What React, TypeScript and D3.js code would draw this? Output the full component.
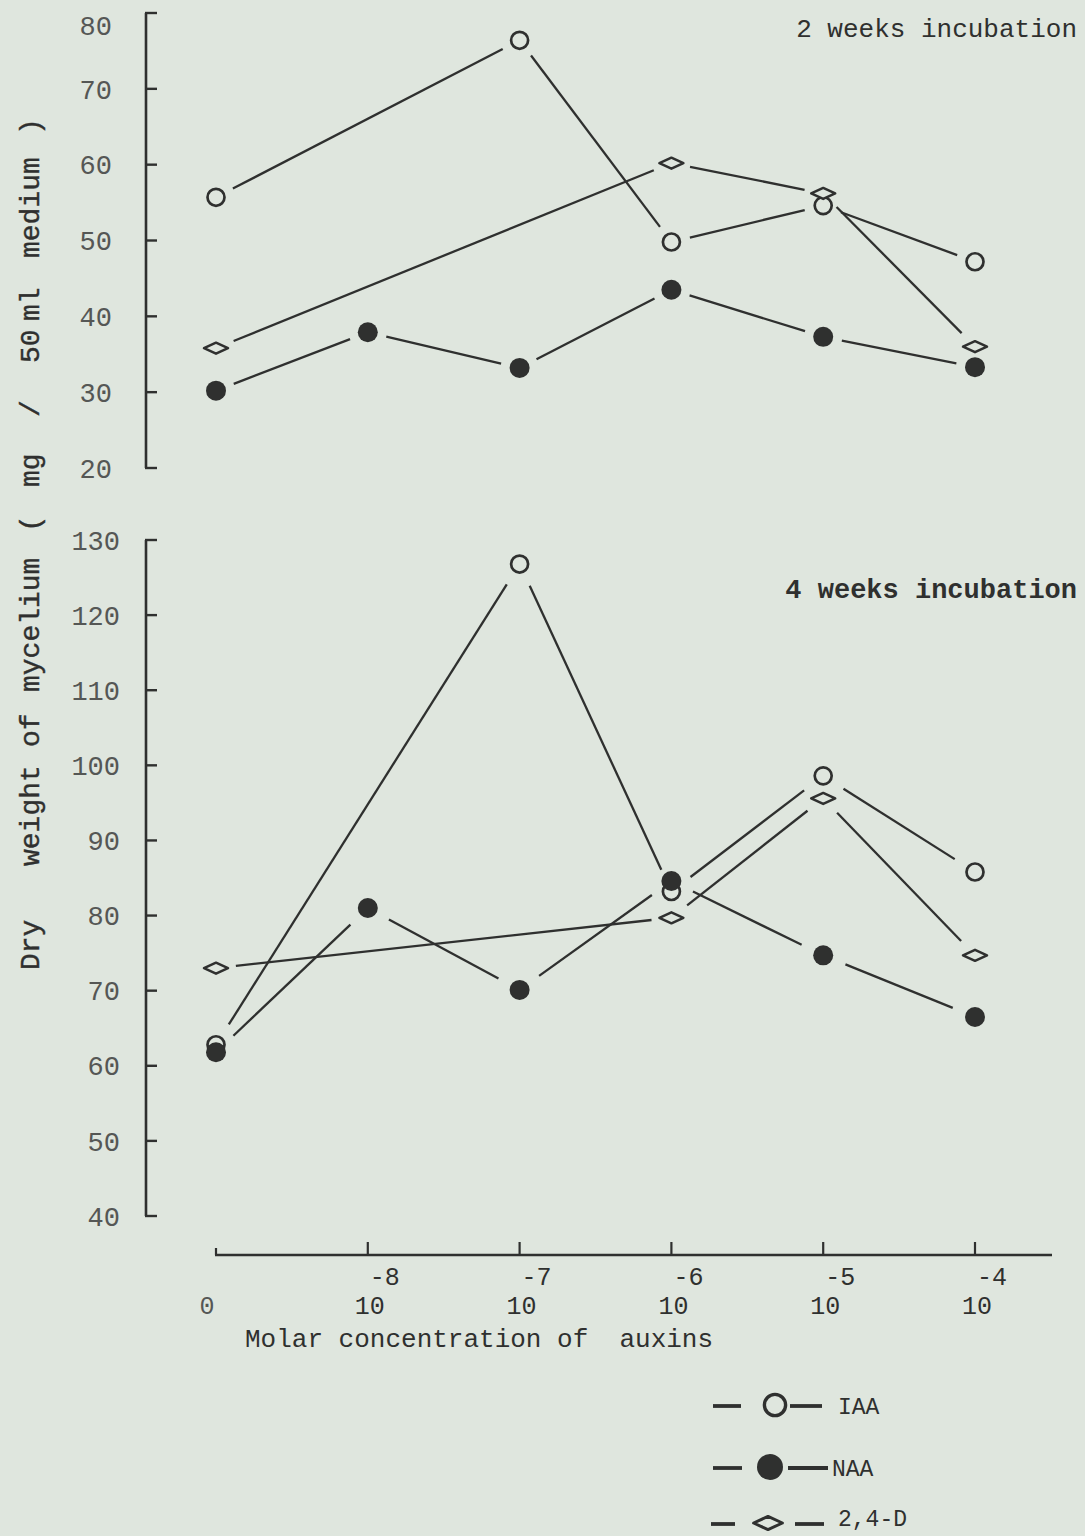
import * as d3 from "d3";

// concentration categories (0 and 10^-8 ... 10^-4 M)
const CATEGORIES = ["0", "-8", "-7", "-6", "-5", "-4"];

// 2 weeks incubation, mg / 50 ml medium
const IAA_2WK = [55.7, null, 76.4, 49.8, 54.6, 47.2];
const NAA_2WK = [30.2, 37.9, 33.2, 43.5, 37.3, 33.3];
const D24_2WK = [35.8, null, null, 60.2, 56.2, 36.0];

// 4 weeks incubation
const IAA_4WK = [62.8, null, 126.8, 83.2, 98.6, 85.8];
const NAA_4WK = [61.8, 81.0, 70.1, 84.6, 74.7, 66.5];
const D24_4WK = [73.0, null, null, 79.7, 95.6, 74.7];

const TOP_TICKS = [20, 30, 40, 50, 60, 70, 80];
const BOTTOM_TICKS = [40, 50, 60, 70, 80, 90, 100, 110, 120, 130];

const INK = "#2f302f";
const LABEL_INK = "#555755";
const BG = "#dfe6de";
const FONT = "'Liberation Mono', 'DejaVu Sans Mono', monospace";

type Kind = "open" | "filled" | "diamond";

const xScale = d3.scalePoint<string>().domain(CATEGORIES).range([216, 975]);
const yTop = d3.scaleLinear().domain([20, 80]).range([468, 13]);
const yBottom = d3.scaleLinear().domain([40, 130]).range([1216, 540]);

const Marker = ({ kind, x, y, s = 1 }: { kind: Kind; x: number; y: number; s?: number }) => {
  if (kind === "open")
    return <circle cx={x} cy={y} r={8.5 * s} fill={BG} stroke={INK} strokeWidth={2.7 * s} />;
  if (kind === "filled") return <circle cx={x} cy={y} r={10 * s} fill={INK} />;
  const w = 12 * s;
  const h = 5.5 * s;
  return (
    <path
      d={`M${x - w},${y}L${x},${y - h}L${x + w},${y}L${x},${y + h}Z`}
      fill={BG}
      stroke={INK}
      strokeWidth={2.5 * s}
      strokeLinejoin="round"
    />
  );
};

// lines in the original stop short of the symbols
const segments = (pts: [number, number][], gap: number) => {
  const out: [number, number, number, number][] = [];
  for (let i = 1; i < pts.length; i++) {
    const [x1, y1] = pts[i - 1];
    const [x2, y2] = pts[i];
    const d = Math.hypot(x2 - x1, y2 - y1);
    const f = gap / d;
    out.push([x1 + (x2 - x1) * f, y1 + (y2 - y1) * f, x2 - (x2 - x1) * f, y2 - (y2 - y1) * f]);
  }
  return out;
};

const Series = ({
  values,
  kind,
  yScale,
  gap,
}: {
  values: (number | null)[];
  kind: Kind;
  yScale: d3.ScaleLinear<number, number>;
  gap: number;
}) => {
  const pts: [number, number][] = [];
  values.forEach((v, i) => {
    if (v !== null) pts.push([xScale(CATEGORIES[i])!, yScale(v)]);
  });
  return (
    <g>
      {segments(pts, gap).map((s, i) => (
        <line key={i} x1={s[0]} y1={s[1]} x2={s[2]} y2={s[3]} stroke={INK} strokeWidth={2.3} />
      ))}
      {pts.map((p, i) => (
        <Marker key={i} kind={kind} x={p[0]} y={p[1]} />
      ))}
    </g>
  );
};

const YAxis = ({
  yScale,
  ticks,
  labelX,
}: {
  yScale: d3.ScaleLinear<number, number>;
  ticks: number[];
  labelX: number;
}) => {
  const [y0, y1] = yScale.range();
  return (
    <g>
      <line x1={146} x2={146} y1={y0} y2={y1} stroke={INK} strokeWidth={2.6} />
      {ticks.map((t) => (
        <g key={t}>
          <line x1={145} x2={157} y1={yScale(t)} y2={yScale(t)} stroke={INK} strokeWidth={2.4} />
          <text
            x={labelX}
            y={Math.max(yScale(t), 25)}
            dy="0.36em"
            textAnchor="end"
            fontFamily={FONT}
            fontSize={27}
            fill={LABEL_INK}
          >
            {t}
          </text>
        </g>
      ))}
    </g>
  );
};

// words of the rotated y label with the start (bottom) position of each
const Y_LABEL: [string, number][] = [
  ["Dry", 970],
  ["weight", 866],
  ["of", 747],
  ["mycelium", 692],
  ["(", 532],
  ["mg", 487],
  ["/", 417],
  ["50", 363],
  ["ml", 321],
  ["medium", 258],
  [")", 135],
];

export default function App() {
  const axisY = 1255;
  return (
    <svg
      width={1085}
      height={1536}
      style={{ position: "absolute", left: 0, top: 0 }}
      fontFamily={FONT}
    >
      <rect width={1085} height={1536} fill={BG} />

      {/* y label */}
      {Y_LABEL.map(([w, y]) => (
        <text
          key={w + y}
          transform={`translate(39,${y}) rotate(-90)`}
          fontSize={28}
          fill={INK}
          stroke={INK}
          strokeWidth={0.4}
        >
          {w}
        </text>
      ))}

      {/* top panel: 2 weeks */}
      <YAxis yScale={yTop} ticks={TOP_TICKS} labelX={112} />
      <text x={1077} y={37} textAnchor="end" fontSize={26} fill={INK}>
        2 weeks incubation
      </text>
      <Series values={IAA_2WK} kind="open" yScale={yTop} gap={19} />
      <Series values={NAA_2WK} kind="filled" yScale={yTop} gap={19} />
      <Series values={D24_2WK} kind="diamond" yScale={yTop} gap={19} />

      {/* bottom panel: 4 weeks */}
      <YAxis yScale={yBottom} ticks={BOTTOM_TICKS} labelX={120} />
      <text x={1077} y={598} textAnchor="end" fontSize={27} fontWeight="bold" fill={INK}>
        4 weeks incubation
      </text>
      <Series values={D24_4WK} kind="diamond" yScale={yBottom} gap={20} />
      <Series values={IAA_4WK} kind="open" yScale={yBottom} gap={24} />
      <Series values={NAA_4WK} kind="filled" yScale={yBottom} gap={24} />

      {/* x axis */}
      <line x1={215} x2={1052} y1={axisY} y2={axisY} stroke={INK} strokeWidth={2.6} />
      {CATEGORIES.map((c, i) => {
        const x = xScale(c)!;
        return (
          <g key={c}>
            <line x1={x} x2={x} y1={axisY} y2={axisY - (i === 0 ? 7 : 13)} stroke={INK} strokeWidth={2.2} />
            {i === 0 ? (
              <text x={x - 9} y={1314} textAnchor="middle" fontSize={25} fill={LABEL_INK}>
                0
              </text>
            ) : (
              <>
                <text x={x + 2} y={1314} textAnchor="middle" fontSize={25} fill={INK}>
                  10
                </text>
                <text x={x + 2} y={1285} textAnchor="start" fontSize={25} fill={INK}>
                  {c}
                </text>
              </>
            )}
          </g>
        );
      })}
      <text x={245} y={1347} fontSize={26} fill={INK} style={{ whiteSpace: "pre" }}>
        {"Molar concentration of  auxins"}
      </text>

      {/* legend */}
      <g stroke={INK} strokeWidth={3.8}>
        <line x1={713} x2={741} y1={1406} y2={1406} />
        <line x1={790} x2={822} y1={1406} y2={1406} />
        <line x1={713} x2={742} y1={1468} y2={1468} />
        <line x1={788} x2={828} y1={1468} y2={1468} />
        <line x1={711} x2={735} y1={1524} y2={1524} />
        <line x1={795} x2={824} y1={1524} y2={1524} />
      </g>
      <Marker kind="open" x={775} y={1405} s={1.25} />
      <Marker kind="filled" x={770} y={1467} s={1.3} />
      <Marker kind="diamond" x={768} y={1523} s={1.2} />
      <text x={838} y={1414} fontSize={23} fill={INK}>IAA</text>
      <text x={832} y={1476} fontSize={23} fill={INK}>NAA</text>
      <text x={838} y={1526} fontSize={23} fill={INK}>2,4-D</text>
    </svg>
  );
}
